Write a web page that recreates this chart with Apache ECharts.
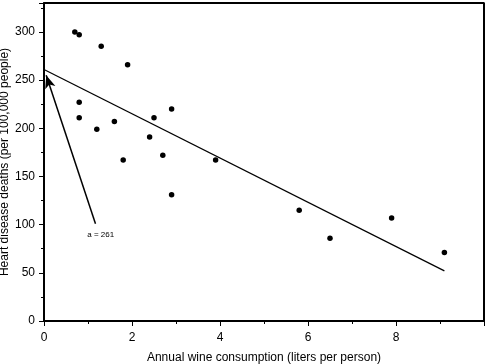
<!DOCTYPE html>
<html>
<head>
<meta charset="utf-8">
<script src="https://cdn.jsdelivr.net/npm/echarts@6/dist/echarts.min.js"></script>
<style>html,body{margin:0;padding:0;background:#fff;}#c{width:487px;height:364px;}</style>
</head>
<body>
<div id="c"></div>
<script>
// Data (wine consumption, liters/person vs heart disease deaths per 100,000)
const wineConsumption = [2.5, 3.9, 2.9, 2.4, 2.9, 0.8, 9.1, 0.8, 0.7, 7.9, 1.8, 1.9, 0.8, 6.5, 1.6, 5.8, 1.3, 1.2, 2.7];
const heartDeaths     = [211, 167, 131, 191, 220, 297, 71, 211, 300, 107, 167, 266, 227, 86, 207, 115, 285, 199, 172];
const fitLineX = [0, 9.1];
const fitLineY = [261, 52];
const arrowFrom = [1.17, 101];
const arrowTo = [0.05, 255];
const annotationText = 'a = 261';
const xTicks = [0, 2, 4, 6, 8];
const yTicks = [0, 50, 100, 150, 200, 250, 300];
const xMax = 10;
const yMax = 330;
const frameTopY = [[0, yMax], [xMax, yMax]];
const frameRightX = [[xMax, 0], [xMax, yMax]];

const points = wineConsumption.map((x, i) => [x, heartDeaths[i]]);
const fitLine = fitLineX.map((x, i) => [x, fitLineY[i]]);

const chart = echarts.init(document.getElementById('c'), null, {renderer: 'canvas'});
const font = 'Liberation Sans, Arial, Helvetica, sans-serif';
chart.setOption({
  animation: false,
  backgroundColor: '#fff',
  grid: {left: 44, right: 3, top: 3, bottom: 43, containLabel: false, outerBoundsMode: 'none',
    show: true, borderColor: '#000', borderWidth: 1.5},
  xAxis: {
    type: 'value', min: 0, max: xMax, interval: 2, position: 'bottom',
    name: 'Annual wine consumption (liters per person)',
    nameLocation: 'middle', nameGap: 31, nameMoveOverlap: false,
    nameTextStyle: {fontFamily: font, fontSize: 12, color: '#000'},
    axisLine: {show: true, onZero: false, lineStyle: {color: '#000', width: 2}},
    axisTick: {show: true, length: 5, lineStyle: {color: '#000', width: 1}},
    minorTick: {show: true, splitNumber: 2, length: 3, lineStyle: {color: '#000'}},
    splitLine: {show: false},
    axisLabel: {fontFamily: font, fontSize: 12, color: '#000', margin: 11,
      formatter: v => (xTicks.indexOf(v) >= 0 ? String(v) : '')}
  },
  yAxis: {
    type: 'value', min: 0, max: yMax, interval: 50, position: 'left',
    name: 'Heart disease deaths (per 100,000 people)',
    nameLocation: 'middle', nameGap: 33, nameMoveOverlap: false,
    nameTextStyle: {fontFamily: font, fontSize: 12, color: '#000'},
    axisLine: {show: true, onZero: false, lineStyle: {color: '#000', width: 2}},
    axisTick: {show: true, length: 5, lineStyle: {color: '#000', width: 1}},
    minorTick: {show: true, splitNumber: 2, length: 3, lineStyle: {color: '#000'}},
    splitLine: {show: false},
    axisLabel: {fontFamily: font, fontSize: 12, color: '#000', margin: 9,
      formatter: v => (yTicks.indexOf(v) >= 0 ? String(v) : '')}
  },
  series: [
    {
      type: 'line', data: frameTopY, symbol: 'none', clip: false, silent: true,
      lineStyle: {color: '#000', width: 2}
    },
    {
      type: 'line', data: frameRightX, symbol: 'none', clip: false, silent: true,
      lineStyle: {color: '#000', width: 2}
    },
    {
      type: 'line', data: fitLine, symbol: 'none',
      lineStyle: {color: '#000', width: 1.2}, silent: true
    },
    {
      type: 'scatter', data: points, symbol: 'circle', symbolSize: 5.5,
      itemStyle: {color: '#000', opacity: 1}
    },
    {
      type: 'scatter', data: [], silent: true,
      markLine: {
        silent: true, symbol: ['none', 'arrow'], symbolSize: [8, 13],
        label: {show: false},
        lineStyle: {color: '#000', width: 1.5, type: 'solid'},
        data: [[{coord: arrowFrom}, {coord: arrowTo}]]
      },
      markPoint: {
        silent: true, symbol: 'rect', symbolSize: 1,
        itemStyle: {color: 'rgba(0,0,0,0)'},
        label: {show: true, formatter: annotationText, color: '#000', fontFamily: font, fontSize: 8,
          position: 'inside'},
        data: [{coord: [1.29, 89]}]
      }
    }
  ]
});
</script>
</body>
</html>
